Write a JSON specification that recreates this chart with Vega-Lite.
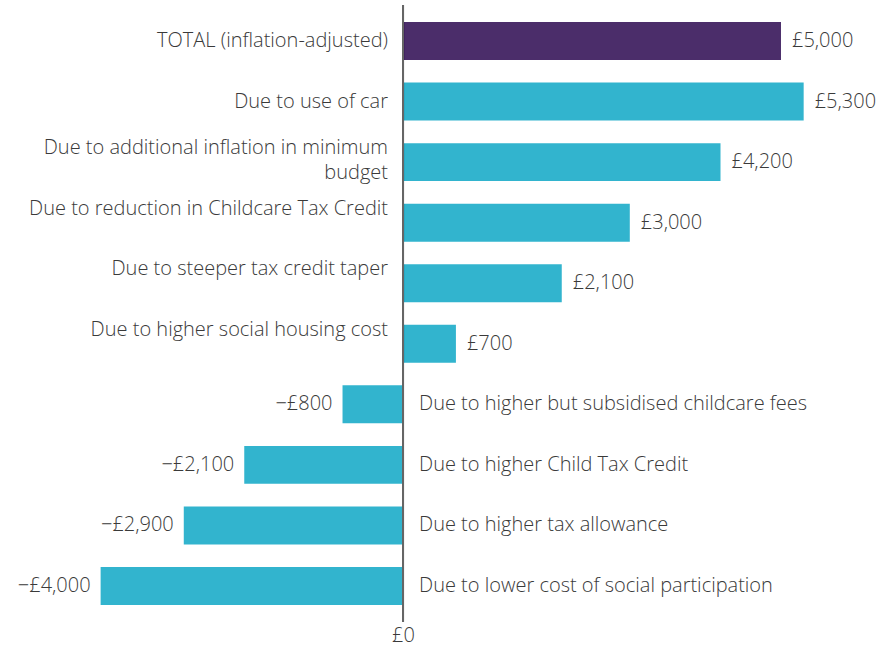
{
  "$schema": "https://vega.github.io/schema/vega-lite/v6.json",
  "width": 881,
  "height": 617,
  "autosize": {"type": "none"},
  "padding": {"left": 0, "right": 0, "top": 5, "bottom": 26},
  "config": {
    "view": {"stroke": null},
    "font": "Open Sans",
    "text": {"font": "Open Sans", "fontSize": 20, "fill": "#3a3a3a", "fontWeight": 300}
  },
  "data": {
    "values": [
      {"cat": "TOTAL (inflation-adjusted)", "label": ["TOTAL (inflation-adjusted)"], "value": 5000, "total": true},
      {"cat": "Due to use of car", "label": ["Due to use of car"], "value": 5300, "total": false},
      {"cat": "Due to additional inflation in minimum budget", "label": ["Due to additional inflation in minimum", "budget"], "value": 4200, "total": false},
      {"cat": "Due to reduction in Childcare Tax Credit", "label": ["Due to reduction in Childcare Tax Credit", ""], "value": 3000, "total": false},
      {"cat": "Due to steeper tax credit taper", "label": ["Due to steeper tax credit taper", ""], "value": 2100, "total": false},
      {"cat": "Due to higher social housing cost", "label": ["Due to higher social housing cost", ""], "value": 700, "total": false},
      {"cat": "Due to higher but subsidised childcare fees", "label": ["Due to higher but subsidised childcare fees"], "value": -800, "total": false},
      {"cat": "Due to higher Child Tax Credit", "label": ["Due to higher Child Tax Credit"], "value": -2100, "total": false},
      {"cat": "Due to higher tax allowance", "label": ["Due to higher tax allowance"], "value": -2900, "total": false},
      {"cat": "Due to lower cost of social participation", "label": ["Due to lower cost of social participation"], "value": -4000, "total": false}
    ]
  },
  "transform": [
    {"calculate": "(datum.value < 0 ? '\u2212' : '') + '£' + format(abs(datum.value), ',')", "as": "vlabel"}
  ],
  "encoding": {
    "y": {
      "field": "cat", "type": "nominal", "sort": null,
      "scale": {"paddingInner": 0.373, "paddingOuter": 0.281},
      "axis": null
    }
  },
  "layer": [
    {
      "mark": {"type": "bar"},
      "encoding": {
        "x": {
          "field": "value", "type": "quantitative",
          "scale": {"domain": [-5331, 6323], "nice": false, "zero": false},
          "axis": {
            "values": [0], "labelExpr": "'£0'", "domain": false, "ticks": false, "grid": false,
            "title": null, "labelFont": "Open Sans", "labelFontSize": 20, "labelFontWeight": 300,
            "labelColor": "#3a3a3a", "labelPadding": 3
          }
        },
        "color": {
          "field": "total", "type": "nominal", "legend": null,
          "scale": {"domain": [true, false], "range": ["#4B2D6A", "#32B4CE"]}
        }
      }
    },
    {
      "mark": {"type": "rule", "color": "#666666", "strokeWidth": 2},
      "encoding": {"x": {"datum": 0, "type": "quantitative"}, "y": null}
    },
    {
      "transform": [{"filter": "datum.value >= 0"}],
      "mark": {"type": "text", "align": "right", "baseline": "middle", "dx": -15, "dy": {"expr": "length(datum.label) > 1 ? -14 : 0"}, "lineHeight": 25, "fill": "#3a3a3a"},
      "encoding": {"x": {"datum": 0, "type": "quantitative"}, "text": {"field": "label"}}
    },
    {
      "transform": [{"filter": "datum.value < 0"}],
      "mark": {"type": "text", "align": "left", "baseline": "middle", "dx": 16, "lineHeight": 25, "fill": "#3a3a3a"},
      "encoding": {"x": {"datum": 0, "type": "quantitative"}, "text": {"field": "label"}}
    },
    {
      "transform": [{"filter": "datum.value >= 0"}],
      "mark": {"type": "text", "align": "left", "baseline": "middle", "dx": 11, "fill": "#3a3a3a"},
      "encoding": {"x": {"field": "value", "type": "quantitative"}, "text": {"field": "vlabel"}}
    },
    {
      "transform": [{"filter": "datum.value < 0"}],
      "mark": {"type": "text", "align": "right", "baseline": "middle", "dx": -10, "fill": "#3a3a3a"},
      "encoding": {"x": {"field": "value", "type": "quantitative"}, "text": {"field": "vlabel"}}
    }
  ]
}
